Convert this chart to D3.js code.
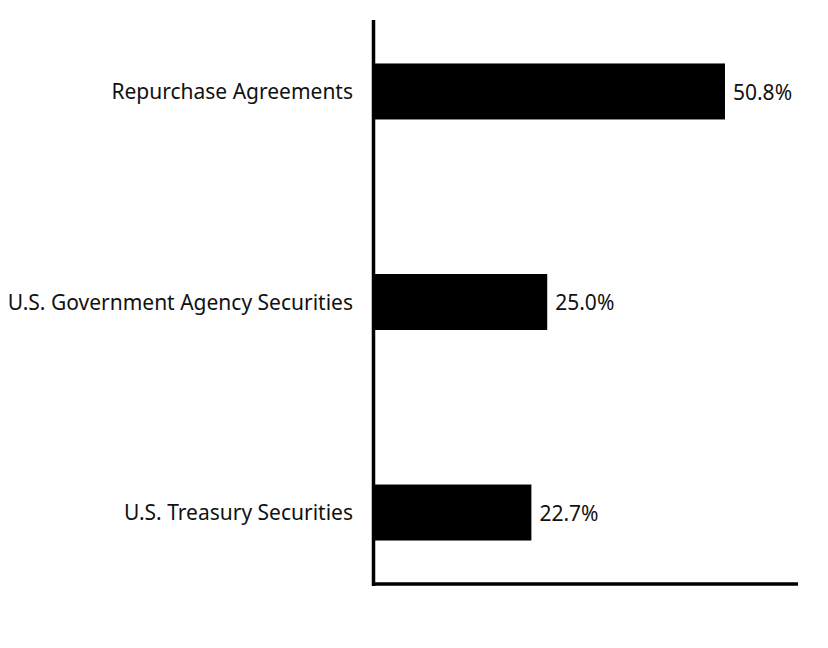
<!DOCTYPE html>
<html>
<head>
<meta charset="utf-8">
<script src="https://cdn.jsdelivr.net/npm/d3@7"></script>
<style>
    body { margin: 0; background: #fff; }
    text { font-family: "Noto Sans", Lato, sans-serif; fill: #111; font-variant-ligatures: none; }
</style>
</head>
<body>
<div id="chart"></div>
<script>
//chart data:
var categories = ["Repurchase Agreements", "U.S. Government Agency Securities", "U.S. Treasury Securities"];
var values = [50.8, 25.0, 22.7];
var valueLabels = ["50.8%", "25.0%", "22.7%"];

var width = 828;
var height = 648;
var fontSize = 21;

//create plot pane:
var plot = d3.select("#chart")
    .append("svg")
    .attr("width", width)
    .attr("height", height);

//panel edges (note: "top" is taken by window.top)
var panelLeft = 375;
var panelRight = 798;
var panelTop = 20;
var panelBottom = 584;

//set Scales
var xScale = d3.scaleLinear()
    .domain([0, 61.4])
    .range([panelLeft, panelRight]);

var yScale = d3.scaleBand()
    .domain(categories)
    .range([panelTop, panelBottom])
    .paddingInner(0.734)
    .paddingOuter(0.2065);

//bars
plot.selectAll(".bar")
    .data(values)
    .enter().append("rect")
    .attr("class", "bar")
    .attr("x", xScale(0))
    .attr("y", function (d, i) { return yScale(categories[i]); })
    .attr("width", function (d) { return xScale(d) - xScale(0); })
    .attr("height", yScale.bandwidth())
    .attr("fill", "#000");

//value labels
plot.selectAll(".value")
    .data(values)
    .enter().append("text")
    .attr("class", "value")
    .attr("x", function (d) { return xScale(d) + 8; })
    .attr("y", function (d, i) { return yScale(categories[i]) + yScale.bandwidth() / 2 + 1; })
    .attr("dy", "0.35em")
    .attr("font-size", fontSize)
    .text(function (d, i) { return valueLabels[i]; });

//category axis
var yAxis = d3.axisLeft(yScale).tickSize(0).tickPadding(22);
var yg = plot.append("g")
    .attr("class", "axis")
    .attr("transform", "translate(" + panelLeft + ",1)")
    .call(yAxis);
yg.select(".domain").remove();
yg.selectAll("text")
    .attr("font-size", fontSize)
    .style("font-family", "'Noto Sans', Lato, sans-serif")
    .attr("fill", "#111");

//axis lines
plot.append("line")
    .attr("x1", panelLeft - 1.5).attr("x2", panelLeft - 1.5)
    .attr("y1", panelTop).attr("y2", panelBottom + 2)
    .attr("stroke", "#000").attr("stroke-width", 3.5);

plot.append("line")
    .attr("x1", panelLeft - 3).attr("x2", panelRight)
    .attr("y1", panelBottom).attr("y2", panelBottom)
    .attr("stroke", "#000").attr("stroke-width", 3.5);
</script>
</body>
</html>
